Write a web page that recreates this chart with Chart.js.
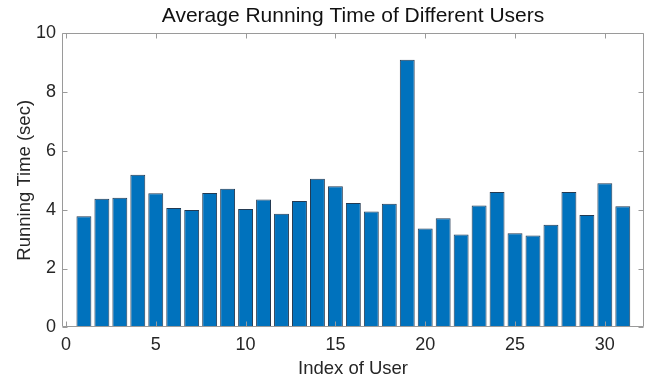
<!DOCTYPE html>
<html>
<head>
<meta charset="utf-8">
<script src="https://cdn.jsdelivr.net/npm/chart.js@4.4.1/dist/chart.umd.min.js"></script>
<style>
  html, body { margin: 0; padding: 0; background: #fff; }
  #wrap { width: 649px; height: 381px; }
</style>
</head>
<body>
<div id="wrap"><canvas id="runChart" width="649" height="381"></canvas></div>
<script>
const userIndex = [
  1, 2, 3, 4, 5, 6, 7, 8, 9, 10, 11, 12, 13, 14, 15, 16,
  17, 18, 19, 20, 21, 22, 23, 24, 25, 26, 27, 28, 29, 30, 31,
];
const runningTime = [
  3.78, 4.37, 4.41, 5.19, 4.56, 4.06, 3.99, 4.57, 4.71, 4.02, 4.35,
  3.86, 4.3, 5.05, 4.8, 4.23, 3.94, 4.2, 9.1, 3.36, 3.71, 3.16, 4.14,
  4.6, 3.2, 3.12, 3.49, 4.6, 3.82, 4.9, 4.12,
];
const xTicks = [0, 5, 10, 15, 20, 25, 30];
const yTicks = [0, 2, 4, 6, 8, 10];

const axisColor = "#9a9a9a";
const textColor = "#262626";
const fontFamily = "'Liberation Sans', Arial, Helvetica, sans-serif";

// matlab style box with ticks pointing inwards
const boxAxes = {
  id: "boxAxes",
  afterDatasetsDraw(chart) {
    const { ctx, chartArea: a, scales } = chart;
    const left = Math.round(a.left) + 0.5;
    const right = Math.round(a.right) - 0.5;
    const top = Math.round(a.top) + 0.5;
    const bottom = Math.round(a.bottom) - 0.5;
    ctx.save();
    ctx.strokeStyle = axisColor;
    ctx.lineWidth = 1;
    ctx.beginPath();
    xTicks.forEach((v) => {
      const px = Math.round(scales.x.getPixelForValue(v)) + 0.5;
      ctx.moveTo(px, bottom);
      ctx.lineTo(px, bottom - 5);
      ctx.moveTo(px, top);
      ctx.lineTo(px, top + 5);
    });
    yTicks.forEach((v) => {
      const py = Math.round(scales.y.getPixelForValue(v)) + 0.5;
      ctx.moveTo(left, py);
      ctx.lineTo(left + 5, py);
      ctx.moveTo(right, py);
      ctx.lineTo(right - 5, py);
    });
    ctx.rect(left, top, right - left, bottom - top);
    ctx.stroke();
    ctx.restore();
  },
};

function createChart() {
  const ctx = document.getElementById("runChart").getContext("2d");

  new Chart(ctx, {
    type: "bar",
    data: {
      datasets: [
        {
          data: userIndex.map((x, i) => ({ x: x, y: runningTime[i] })),
          backgroundColor: "#0072BD",
          borderColor: "#233a52",
          borderWidth: 1,
          barPercentage: 0.83,
          categoryPercentage: 1,
        },
      ],
    },
    options: {
      responsive: false,
      animation: false,
      devicePixelRatio: 1,
      layout: { padding: { left: 0, right: 5, top: 0, bottom: 0 } },
      plugins: {
        legend: { display: false },
        tooltip: { enabled: false },
        title: {
          display: true,
          text: "Average Running Time of Different Users",
          fullSize: false,
          color: "#111",
          font: { family: fontFamily, size: 21, weight: "normal" },
          padding: { top: 3.5, bottom: 4.6 },
        },
      },
      scales: {
        x: {
          type: "linear",
          min: -0.22,
          max: 32.18,
          offset: false,
          grid: { display: false, drawTicks: false },
          border: { display: false },
          afterBuildTicks: (scale) => {
            scale.ticks = xTicks.map((v) => ({ value: v }));
          },
          afterFit: (scale) => {
            scale.height = 53.7;
          },
          ticks: {
            color: textColor,
            padding: 7,
            maxRotation: 0,
            autoSkip: false,
            font: { family: fontFamily, size: 18 },
          },
          title: {
            display: true,
            text: "Index of User",
            color: textColor,
            font: { family: fontFamily, size: 18.5 },
            padding: { top: 0, bottom: 1 },
          },
        },
        y: {
          min: 0,
          max: 10,
          grid: { display: false, drawTicks: false },
          border: { display: false },
          afterBuildTicks: (scale) => {
            scale.ticks = yTicks.map((v) => ({ value: v }));
          },
          afterFit: (scale) => {
            scale.width = 62;
          },
          ticks: {
            color: textColor,
            padding: 6,
            font: { family: fontFamily, size: 18 },
          },
          title: {
            display: true,
            text: "Running Time (sec)",
            color: textColor,
            font: { family: fontFamily, size: 18.5 },
            padding: { top: 14, bottom: 0 },
          },
        },
      },
    },
    plugins: [boxAxes],
  });
}

createChart();
</script>
</body>
</html>
